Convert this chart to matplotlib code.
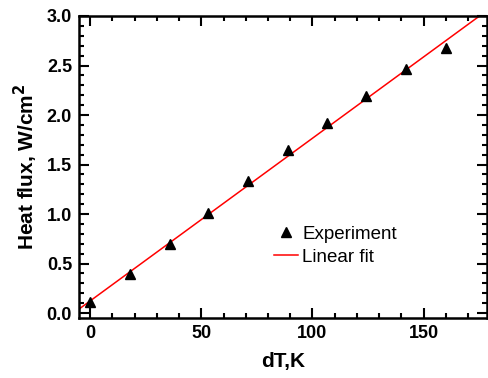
import numpy as np
import matplotlib
matplotlib.use('Agg')
import matplotlib.pyplot as plt
from matplotlib.ticker import MultipleLocator

# measured points
dT = [0, 18, 36, 53, 71, 89, 106.5, 124, 142, 160]
heat_flux = [0.11, 0.39, 0.70, 1.01, 1.33, 1.65, 1.92, 2.19, 2.46, 2.68]

# linear fit, endpoints
fit_x = [-5, 180]
fit_y = [0.04, 3.08]

plt.rcParams['font.family'] = ['Liberation Sans', 'DejaVu Sans']

fig = plt.figure(figsize=(4.89, 3.78), dpi=100)
ax = fig.add_axes([79 / 489, 60 / 378, 408 / 489, 302 / 378])

ax.plot(dT, heat_flux, linestyle='none', marker='^', color='black',
        markersize=7, label='Experiment', zorder=3)
ax.plot(fit_x, fit_y, color='red', linewidth=1.1, label='Linear fit')

ax.set_xlim(-5, 178.5)
ax.set_ylim(-0.05, 3.0)
ax.xaxis.set_major_locator(MultipleLocator(50))
ax.xaxis.set_minor_locator(MultipleLocator(10))
ax.yaxis.set_major_locator(MultipleLocator(0.5))
ax.yaxis.set_minor_locator(MultipleLocator(0.1))
ax.yaxis.set_major_formatter(matplotlib.ticker.FormatStrFormatter('%.1f'))

ax.tick_params(which='both', direction='in', top=True, right=True, width=1.5)
ax.tick_params(which='major', length=7, labelsize=13, pad=5)
ax.tick_params(which='minor', length=3.5)
for lab in ax.get_xticklabels() + ax.get_yticklabels():
    lab.set_fontweight('bold')
for sp in ax.spines.values():
    sp.set_linewidth(1.8)

ax.set_xlabel('dT,K', fontsize=15, fontweight='bold', labelpad=7)
ax.set_ylabel('Heat flux, W/cm$^\\mathbf{2}$', fontsize=15, fontweight='bold', labelpad=5)

ax.legend(loc='center left', bbox_to_anchor=(0.478, 0.239), frameon=False,
          fontsize=13.5, handlelength=1.3, handletextpad=0.2, labelspacing=0.3,
          borderpad=0, borderaxespad=0, numpoints=1)

fig.savefig('out.png', dpi=100)
